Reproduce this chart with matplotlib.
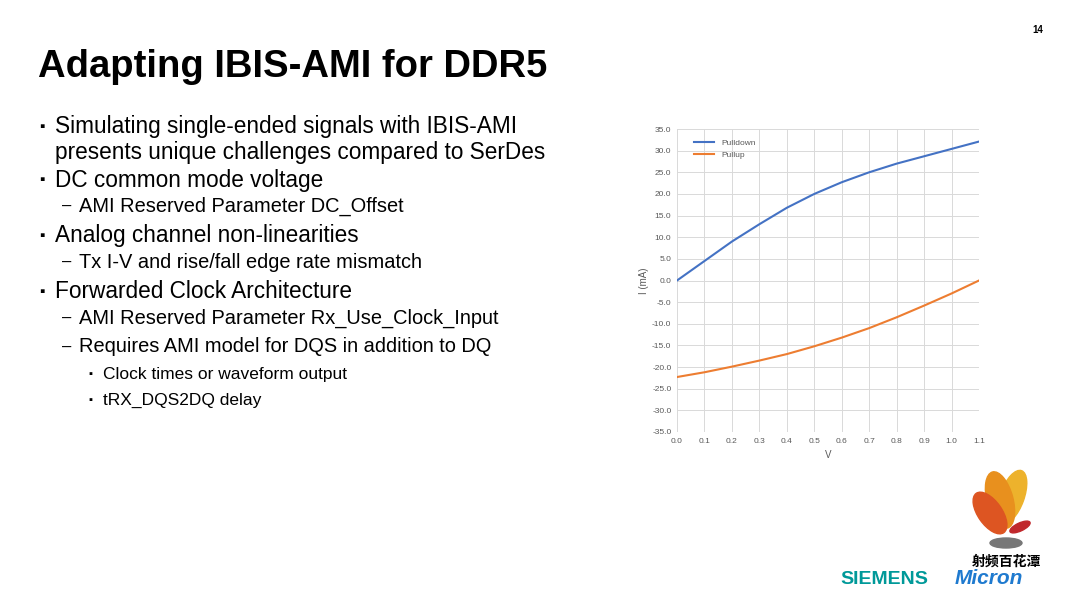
import matplotlib.pyplot as plt
from matplotlib.patches import Ellipse

plt.rcParams['font.family'] = ['Liberation Sans', 'DejaVu Sans']

# I-V data
volts = [0.0, 0.1, 0.2, 0.3, 0.4, 0.5, 0.6, 0.7, 0.8, 0.9, 1.0, 1.1]
pulldown = [0.0, 4.5, 9.0, 13.0, 16.8, 20.0, 22.7, 25.0, 27.0, 28.7, 30.4, 32.1]
pullup = [-22.3, -21.2, -19.9, -18.5, -17.0, -15.2, -13.2, -11.0, -8.5, -5.8, -3.0, 0.0]

fig = plt.figure(figsize=(10.8, 6.08), dpi=100)
fig.patch.set_facecolor('white')

# Slide text
fig.text(38/1080, 1 - 67/608, 'Adapting IBIS-AMI for DDR5', fontsize=27.5, fontweight='bold', va='center')
fig.text(1032/1080, 1 - 30/608, '14', fontsize=7, fontweight='bold', va='center')

lines = [
    (0, 127, 'Simulating single-ended signals with IBIS-AMI'),
    (0, -1, 'presents unique challenges compared to SerDes'),
    (0, 180, 'DC common mode voltage'),
    (1, 206, 'AMI Reserved Parameter DC_Offset'),
    (0, 236, 'Analog channel non-linearities'),
    (1, 262, 'Tx I-V and rise/fall edge rate mismatch'),
    (0, 292, 'Forwarded Clock Architecture'),
    (1, 318, 'AMI Reserved Parameter Rx_Use_Clock_Input'),
    (1, 347, 'Requires AMI model for DQS in addition to DQ'),
    (2, 374, 'Clock times or waveform output'),
    (2, 400, 'tRX_DQS2DQ delay'),
]
y_prev = 127
for lvl, y, txt in lines:
    if y < 0:
        y = y_prev + 26
        marker = ''
    else:
        marker = ['▪', '–', '▪'][lvl]
    y_prev = y
    xs = [55, 79, 103][lvl]
    size = [16.3, 14.4, 12.5][lvl]
    fig.text(xs/1080, 1 - y/608, txt, fontsize=size, va='center')
    if marker:
        mx = [39, 62, 88][lvl]
        fig.text(mx/1080, 1 - y/608, marker, fontsize=[11, 12, 8][lvl], va='center')

# Chart
ax = fig.add_axes([677/1080, 1 - 432/608, 302/1080, 303/608])
ax.plot(volts, pulldown, color='#4472C4', lw=1.5, label='Pulldown')
ax.plot(volts, pullup, color='#ED7D31', lw=1.5, label='Pullup')
ax.set_xlim(0, 1.1)
ax.set_ylim(-35, 35)
ax.set_xticks([i/10 for i in range(12)])
ax.set_xticklabels([f'{i/10:.1f}' for i in range(12)])
ax.set_yticks(range(-35, 36, 5))
ax.set_yticklabels([f'{v:.1f}' for v in range(-35, 36, 5)])
ax.tick_params(labelsize=6, colors='#595959', length=0, pad=4)
ax.grid(True, color='#D9D9D9', lw=0.7)
for s in ax.spines.values():
    s.set_visible(False)
ax.set_xlabel('V', fontsize=7, color='#595959', labelpad=4)
ax.set_ylabel('I (mA)', fontsize=7, color='#595959', labelpad=2)
ax.legend(loc='upper left', frameon=False, fontsize=6, labelcolor='#595959',
          handlelength=2.5, bbox_to_anchor=(0.03, 0.99))

# Logos
fig.text(840/1080, 1 - 580/608, 'SIEMENS', fontsize=14, fontweight='bold', color='#009999', va='center')
fig.text(955/1080, 1 - 578/608, 'Micron', fontsize=15, fontweight='bold', fontstyle='italic', color='#1F7ACF', va='center')
fig.text(1006/1080, 1 - 562/608, '射频百花潭', fontsize=10, fontweight='bold', ha='center', va='center',
         family=['Noto Sans CJK SC', 'DejaVu Sans'])
lg = fig.add_axes([960/1080, 1 - 555/608, 85/1080, 90/608])
lg.set_xlim(0, 85)
lg.set_ylim(0, 90)
lg.axis('off')
lg.add_patch(Ellipse((52, 58), 24, 56, angle=-20, color='#EDB22C'))
lg.add_patch(Ellipse((40, 55), 26, 58, angle=15, color='#E8901E'))
lg.add_patch(Ellipse((30, 42), 24, 48, angle=35, color='#DD5522'))
lg.add_patch(Ellipse((60, 28), 22, 8, angle=25, color='#C0282C'))
lg.add_patch(Ellipse((46, 12), 32, 10, color='#777777'))

fig.savefig('out.png', dpi=100)
